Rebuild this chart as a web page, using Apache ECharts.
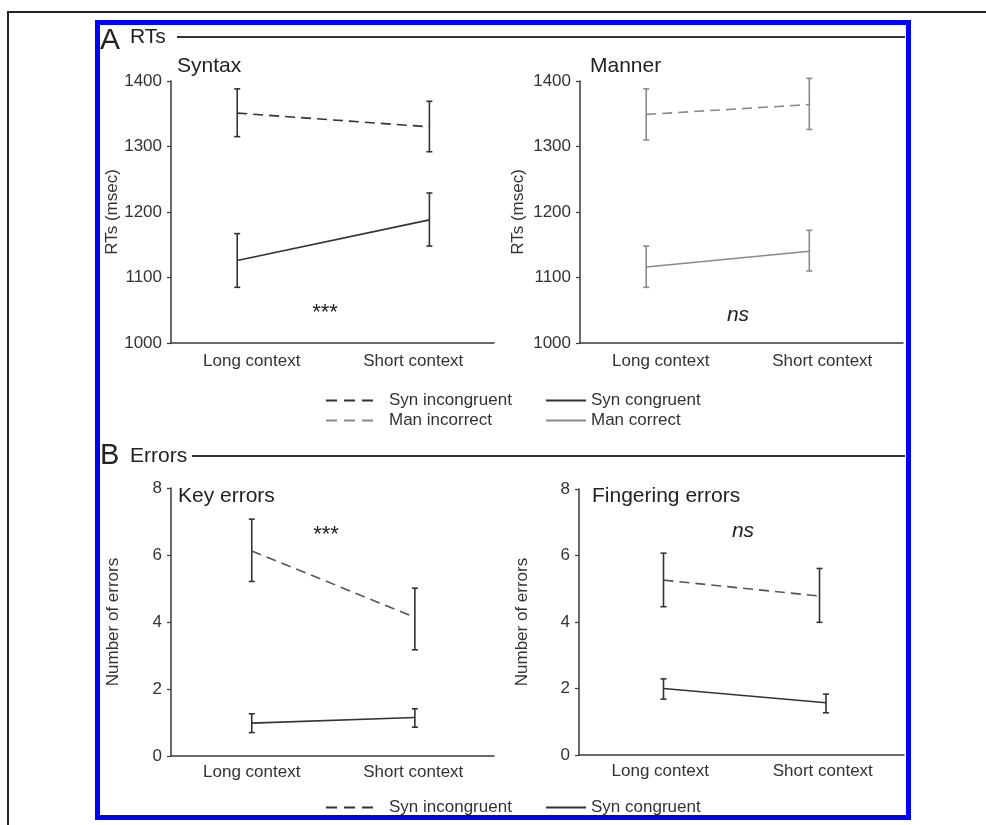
<!DOCTYPE html>
<html>
<head>
<meta charset="utf-8">
<script src="https://cdn.jsdelivr.net/npm/echarts@6/dist/echarts.min.js"></script>
<style>
  html, body { margin: 0; padding: 0; background: #fff; }
  #chart { width: 986px; height: 825px; }
</style>
</head>
<body>
<div id="chart"></div>
<script>
const conditions = ['Long context', 'Short context']

// where the two means sit along each panel's x axis (0..2, category bands)
const syntaxX = [0.41, 1.6]
const mannerX = [0.41, 1.42]
const keyX = [0.5, 1.51]
const fingIncongX = [0.52, 1.48]
const fingCongX = [0.52, 1.52]

// A: RTs (msec), means with error bar ends
const synIncongRT = [1351, 1330]
const synIncongLo = [1315, 1292]
const synIncongHi = [1388, 1369]
const synCongRT = [1126, 1188]
const synCongLo = [1085, 1148]
const synCongHi = [1167, 1229]

const manIncorrRT = [1349, 1364]
const manIncorrLo = [1310, 1326]
const manIncorrHi = [1388, 1404]
const manCorrRT = [1116, 1140]
const manCorrLo = [1085, 1110]
const manCorrHi = [1148, 1172]

// B: number of errors
const keyIncong = [6.12, 4.14]
const keyIncongLo = [5.21, 3.17]
const keyIncongHi = [7.07, 5.01]
const keyCong = [0.98, 1.15]
const keyCongLo = [0.7, 0.86]
const keyCongHi = [1.26, 1.41]

const fingIncong = [5.26, 4.78]
const fingIncongLo = [4.46, 3.99]
const fingIncongHi = [6.07, 5.61]
const fingCong = [2.0, 1.57]
const fingCongLo = [1.68, 1.27]
const fingCongHi = [2.29, 1.83]

const FONT = 'Liberation Sans'
const AXIS = '#3a3a3a'
const DARK = '#333'
const GREY = '#8a8a8a'

const grids = [
  { left: 171, top: 81, width: 323, height: 262 },
  { left: 580, top: 81, width: 323, height: 262 },
  { left: 171, top: 488, width: 323, height: 268 },
  { left: 579, top: 489, width: 325, height: 266 }
]

const xAxes = []
grids.forEach((g, i) => {
  xAxes.push({
    type: 'category',
    gridIndex: i,
    position: 'bottom',
    data: conditions,
    boundaryGap: true,
    axisLine: { lineStyle: { color: AXIS, width: 1.5 } },
    axisTick: { length: 4, lineStyle: { color: AXIS, width: 1.2 } },
    axisLabel: { fontSize: 17, color: '#333', margin: i < 2 ? 10 : 8 }
  })
  xAxes.push({ type: 'value', gridIndex: i, min: 0, max: 2, show: false })
})

function yAxis (i, min, max, interval, name, gap) {
  return {
    type: 'value',
    gridIndex: i,
    min: min,
    max: max,
    interval: interval,
    name: name,
    nameLocation: 'middle',
    nameGap: gap,
    nameMoveOverlap: false,
    nameTextStyle: { fontSize: 17, color: '#333' },
    splitLine: { show: false },
    axisLine: { show: true, lineStyle: { color: AXIS, width: 1.5 } },
    axisTick: { show: true, length: 4, lineStyle: { color: AXIS, width: 1.2 } },
    axisLabel: { fontSize: 17, color: '#333', margin: 9, formatter: v => String(v) }
  }
}

function line (name, g, xs, ys, color, dashed) {
  return {
    type: 'line',
    name: name,
    xAxisIndex: g * 2 + 1,
    yAxisIndex: g,
    data: xs.map((x, i) => [x, ys[i]]),
    symbol: 'none',
    silent: true,
    lineStyle: { color: color, width: 1.6, type: dashed ? [10, 6] : 'solid' },
    itemStyle: { color: color }
  }
}

function errBars (g, xs, lo, hi, color) {
  return {
    type: 'custom',
    xAxisIndex: g * 2 + 1,
    yAxisIndex: g,
    silent: true,
    data: xs.map((x, i) => [x, lo[i], hi[i]]),
    renderItem: (params, api) => {
      const x = api.value(0)
      const top = api.coord([x, api.value(2)])
      const bot = api.coord([x, api.value(1)])
      const st = { stroke: color, lineWidth: 1.6 }
      return {
        type: 'group',
        children: [
          { type: 'line', shape: { x1: top[0], y1: top[1], x2: bot[0], y2: bot[1] }, style: st },
          { type: 'line', shape: { x1: top[0] - 3, y1: top[1], x2: top[0] + 3, y2: top[1] }, style: st },
          { type: 'line', shape: { x1: bot[0] - 3, y1: bot[1], x2: bot[0] + 3, y2: bot[1] }, style: st }
        ]
      }
    }
  }
}

function panelTitle (text, left, top) {
  return { text: text, left: left, top: top, padding: 0,
    textStyle: { fontSize: 21, fontWeight: 'normal', color: '#222', fontFamily: FONT } }
}

function legend (names, left, top, width, dash, pad) {
  return {
    data: names,
    orient: 'vertical',
    left: left,
    top: top,
    padding: 0,
    itemWidth: width,
    itemHeight: 14,
    itemGap: 3,
    selectedMode: false,
    itemStyle: { opacity: 0 },
    lineStyle: dash ? { type: [11, 7] } : {},
    textStyle: { fontSize: 17, color: '#333', padding: [0, 0, 0, pad] }
  }
}

function txt (text, x, y, size, extra) {
  return { type: 'text', x: x, y: y,
    style: Object.assign({ text: text, fontSize: size, fontFamily: FONT, fill: '#222', verticalAlign: 'middle' }, extra || {}) }
}

const chart = echarts.init(document.getElementById('chart'), null, { renderer: 'canvas' })

chart.setOption({
  animation: false,
  backgroundColor: '#fff',
  textStyle: { fontFamily: FONT },
  grid: grids,
  xAxis: xAxes,
  yAxis: [
    yAxis(0, 1000, 1400, 100, 'RTs (msec)', 50),
    yAxis(1, 1000, 1400, 100, 'RTs (msec)', 53),
    yAxis(2, 0, 8, 2, 'Number of errors', 49),
    yAxis(3, 0, 8, 2, 'Number of errors', 48)
  ],
  title: [
    panelTitle('Syntax', 177, 56),
    panelTitle('Manner', 590, 56),
    panelTitle('Key errors', 178, 486),
    panelTitle('Fingering errors', 592, 486)
  ],
  legend: [
    legend(['Syn incongruent', 'Man incorrect'], 325, 392, 47, true, 11),
    legend(['Syn congruent', 'Man correct'], 545, 392, 40, false, 0),
    legend(['Syn incongruent'], 325, 799, 47, true, 11),
    legend(['Syn congruent'], 545, 799, 40, false, 0)
  ],
  graphic: [
    { type: 'polyline', shape: { points: [[986, 12], [8, 12], [8, 825]] }, style: { stroke: '#222', lineWidth: 2, fill: null } },
    { type: 'rect', shape: { x: 97.5, y: 22.5, width: 811, height: 795 }, style: { stroke: '#0000ff', lineWidth: 5, fill: null } },
    txt('A', 100, 41, 30),
    txt('RTs', 130, 37, 21),
    { type: 'line', shape: { x1: 177, y1: 37, x2: 905, y2: 37 }, style: { stroke: '#333', lineWidth: 2 } },
    txt('B', 100, 456, 29),
    txt('Errors', 130, 456, 21),
    { type: 'line', shape: { x1: 192, y1: 456, x2: 905, y2: 456 }, style: { stroke: '#333', lineWidth: 2 } },
    txt('***', 325, 313, 22, { align: 'center' }),
    txt('ns', 738, 315, 21, { align: 'center', fontStyle: 'italic' }),
    txt('***', 326, 535, 22, { align: 'center' }),
    txt('ns', 743, 531, 21, { align: 'center', fontStyle: 'italic' })
  ],
  series: [
    line('Syn incongruent', 0, syntaxX, synIncongRT, DARK, true),
    errBars(0, syntaxX, synIncongLo, synIncongHi, DARK),
    line('Syn congruent', 0, syntaxX, synCongRT, DARK, false),
    errBars(0, syntaxX, synCongLo, synCongHi, DARK),

    line('Man incorrect', 1, mannerX, manIncorrRT, GREY, true),
    errBars(1, mannerX, manIncorrLo, manIncorrHi, GREY),
    line('Man correct', 1, mannerX, manCorrRT, GREY, false),
    errBars(1, mannerX, manCorrLo, manCorrHi, GREY),

    line('Syn incongruent', 2, keyX, keyIncong, '#555', true),
    errBars(2, keyX, keyIncongLo, keyIncongHi, DARK),
    line('Syn congruent', 2, keyX, keyCong, DARK, false),
    errBars(2, keyX, keyCongLo, keyCongHi, DARK),

    line('Syn incongruent', 3, fingIncongX, fingIncong, '#555', true),
    errBars(3, fingIncongX, fingIncongLo, fingIncongHi, DARK),
    line('Syn congruent', 3, fingCongX, fingCong, DARK, false),
    errBars(3, fingCongX, fingCongLo, fingCongHi, DARK)
  ]
})
</script>
</body>
</html>
